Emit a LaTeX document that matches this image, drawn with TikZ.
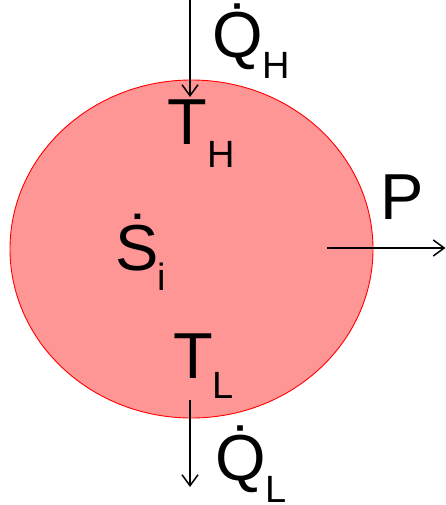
\documentclass[tikz,border=0pt]{standalone}
\usepackage{fontspec}
\setmainfont{Liberation Sans}
\usetikzlibrary{arrows.meta}
\definecolor{sysfill}{RGB}{255,150,150}
\definecolor{sysline}{RGB}{255,0,0}
\tikzset{
  big/.style={inner sep=0pt, anchor=base west, font=\fontsize{65}{65}\selectfont},
  small/.style={inner sep=0pt, anchor=base west, font=\fontsize{38}{38}\selectfont},
  flow/.style={line width=1.5pt, -{Straight Barb[length=11pt,width=16pt,line width=1.5pt]}}
}
\begin{document}
\begin{tikzpicture}[x=1pt,y=-1pt]
\useasboundingbox (0,0) rectangle (446,505);
\fill[sysfill] (191.5,249) ellipse [x radius=181.5, y radius=169];
\draw[sysline, line width=0.9pt] (191.5,249) ellipse [x radius=181.5, y radius=169];
% flows
\coordinate (qhs) at (190,0);
\coordinate (qhe) at (190,97);
\coordinate (qls) at (190,400);
\coordinate (qle) at (190,487);
\coordinate (ps) at (327,248);
\coordinate (pe) at (445.5,248);
\draw[flow] (qhs) -- (qhe);
\draw[flow] (qls) -- (qle);
\draw[flow] (ps) -- (pe);
% labels
\node[big] (QH) at (212,58) {\.{Q}};
\node[small] (QHs) at (262,79) {H};
\node[big] (TH) at (167,145) {T};
\node[small] (THs) at (207,167) {H};
\node[big] (P) at (380,219) {P};
\node[big] (S) at (115,270) {\.{S}};
\node[small] (Ss) at (157,290) {i};
\node[big] (TL) at (173,378) {T};
\node[small] (TLs) at (212,398) {L};
\node[big] (QL) at (215,480) {\.{Q}};
\node[small] (QLs) at (265,502) {L};
\end{tikzpicture}
\end{document}
